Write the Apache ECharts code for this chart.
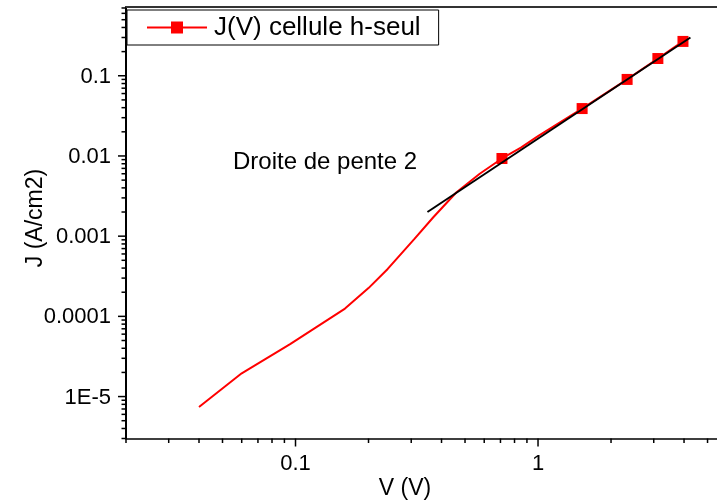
<!DOCTYPE html>
<html>
<head>
<meta charset="utf-8">
<script src="https://cdn.jsdelivr.net/npm/echarts@6/dist/echarts.min.js"></script>
<style>
  html, body { margin: 0; padding: 0; background: #fff; }
  #chart { width: 717px; height: 504px; }
</style>
</head>
<body>
<div id="chart"></div>
<script>
// J(V) characteristic of the h-seul cell, log-log
const voltage = [0.04, 0.06, 0.095, 0.16, 0.2, 0.24, 0.31, 0.37, 0.46, 0.575, 0.71, 0.85, 1.0, 1.52, 2.33, 3.12, 3.96];
const current = [7.4e-6, 1.95e-5, 4.5e-5, 1.25e-4, 2.25e-4, 3.9e-4, 9.3e-4, 1.72e-3, 3.5e-3, 6.0e-3, 9.3e-3, 1.27e-2, 1.77e-2, 0.039, 0.090, 0.164, 0.268];
// points drawn with a square marker
const markedVoltage = [0.71, 1.52, 2.33, 3.12, 3.96];

// slope-2 reference line (J proportional to V^2)
const fitVoltage = [0.35, 4.25];
const fitCurrent = [0.002, 0.30];

// axis ranges and ticks
const X_MIN = 0.02, X_MAX = 5.47;
const Y_MIN = 3e-6, Y_MAX = 0.72;
const xMajor = [0.1, 1];
const xMajorLabels = ['0.1', '1'];
const xMinor = [0.02, 0.03, 0.04, 0.05, 0.06, 0.07, 0.08, 0.09,
                0.2, 0.3, 0.4, 0.5, 0.6, 0.7, 0.8, 0.9,
                2, 3, 4, 5];
const yMajor = [1e-5, 1e-4, 1e-3, 1e-2, 0.1];
const yMajorLabels = ['1E-5', '0.0001', '0.001', '0.01', '0.1'];
const yMinor = [3e-6, 4e-6, 5e-6, 6e-6, 7e-6, 8e-6, 9e-6,
                2e-5, 3e-5, 4e-5, 5e-5, 6e-5, 7e-5, 8e-5, 9e-5,
                2e-4, 3e-4, 4e-4, 5e-4, 6e-4, 7e-4, 8e-4, 9e-4,
                2e-3, 3e-3, 4e-3, 5e-3, 6e-3, 7e-3, 8e-3, 9e-3,
                0.02, 0.03, 0.04, 0.05, 0.06, 0.07, 0.08, 0.09,
                0.2, 0.3, 0.4, 0.5, 0.6, 0.7];

const FONT = '"Liberation Sans", Arial, sans-serif';
const seriesName = 'J(V) cellule h-seul';

const curveData = voltage.map((v, i) => {
  const item = { value: [v, current[i]] };
  if (markedVoltage.indexOf(v) < 0) item.symbol = 'none';
  return item;
});
const fitData = fitVoltage.map((v, i) => [v, fitCurrent[i]]);

// tick data: [value on axis, value on other axis at frame edge, isMajor]
const xTickData = xMajor.map(v => [v, Y_MIN, 1]).concat(xMinor.map(v => [v, Y_MIN, 0]));
const yTickData = yMajor.map(v => [X_MIN, v, 1]).concat(yMinor.map(v => [X_MIN, v, 0]));

function tickSeries(data, dir, labels) {
  return {
    type: 'custom',
    clip: false,
    silent: true,
    z: 6,
    data: data,
    renderItem: function (params, api) {
      const p = api.coord([api.value(0), api.value(1)]);
      const major = api.value(2) === 1;
      const len = major ? 8 : 4.5;
      const children = [];
      const lineStyle = { stroke: '#000', lineWidth: 1.5 };
      if (dir === 'x') {
        children.push({ type: 'line', shape: { x1: p[0], y1: p[1], x2: p[0], y2: p[1] + len }, style: lineStyle });
        if (major) {
          children.push({ type: 'text', x: p[0], y: p[1] + 25,
            style: { text: labels[params.dataIndex], fill: '#000', font: '22px ' + FONT, align: 'center', verticalAlign: 'middle' } });
        }
      } else {
        children.push({ type: 'line', shape: { x1: p[0], y1: p[1], x2: p[0] - len, y2: p[1] }, style: lineStyle });
        if (major) {
          children.push({ type: 'text', x: p[0] - 15, y: p[1] + 1,
            style: { text: labels[params.dataIndex], fill: '#000', font: '22px ' + FONT, align: 'right', verticalAlign: 'middle' } });
        }
      }
      return { type: 'group', children: children };
    }
  };
}

const chart = echarts.init(document.getElementById('chart'), null, { renderer: 'canvas' });
chart.setOption({
  animation: false,
  backgroundColor: '#fff',
  textStyle: { fontFamily: FONT },
  grid: { left: 126, top: 7, right: 0, bottom: 65.5, containLabel: false },
  xAxis: [
    {
      type: 'log', logBase: 10, min: X_MIN, max: X_MAX, position: 'bottom',
      axisLine: { show: true, lineStyle: { color: '#000', width: 1.5 } },
      axisTick: { show: false }, axisLabel: { show: false }, splitLine: { show: false }
    },
    {
      type: 'log', logBase: 10, min: X_MIN, max: X_MAX, position: 'top',
      axisLine: { show: true, onZero: false, lineStyle: { color: '#333', width: 2 } },
      axisTick: { show: false }, axisLabel: { show: false }, splitLine: { show: false }
    }
  ],
  yAxis: {
    type: 'log', logBase: 10, min: Y_MIN, max: Y_MAX,
    axisLine: { show: true, lineStyle: { color: '#000', width: 2 } },
    axisTick: { show: false }, axisLabel: { show: false }, splitLine: { show: false }
  },
  legend: {
    data: [seriesName],
    left: 127, top: 10,
    padding: [4, 18, 4, 19],
    borderColor: '#000', borderWidth: 1,
    itemWidth: 60, itemHeight: 15,
    textStyle: { fontSize: 26, color: '#000', fontFamily: FONT, lineHeight: 27, padding: [0, 0, 0, 2] }
  },
  graphic: [
    { type: 'text', x: 233, y: 162,
      style: { text: 'Droite de pente 2', font: '24px ' + FONT, fill: '#000', align: 'left', verticalAlign: 'middle' } },
    { type: 'text', x: 405, y: 489,
      style: { text: 'V (V)', font: '23px ' + FONT, fill: '#000', align: 'center', verticalAlign: 'middle' } },
    { type: 'text', x: 36, y: 218, rotation: Math.PI / 2,
      style: { text: 'J (A/cm2)', font: '23px ' + FONT, fill: '#000', align: 'center', verticalAlign: 'middle' } }
  ],
  series: [
    {
      name: seriesName, type: 'line', data: curveData,
      symbol: 'rect', symbolSize: 11, showAllSymbol: true,
      itemStyle: { color: '#ff0000' },
      lineStyle: { color: '#ff0000', width: 2 },
      z: 3
    },
    {
      name: 'pente 2', type: 'line', data: fitData,
      symbol: 'none',
      lineStyle: { color: '#000', width: 2 },
      z: 4
    },
    tickSeries(xTickData, 'x', xMajorLabels),
    tickSeries(yTickData, 'y', yMajorLabels)
  ]
});
</script>
</body>
</html>
